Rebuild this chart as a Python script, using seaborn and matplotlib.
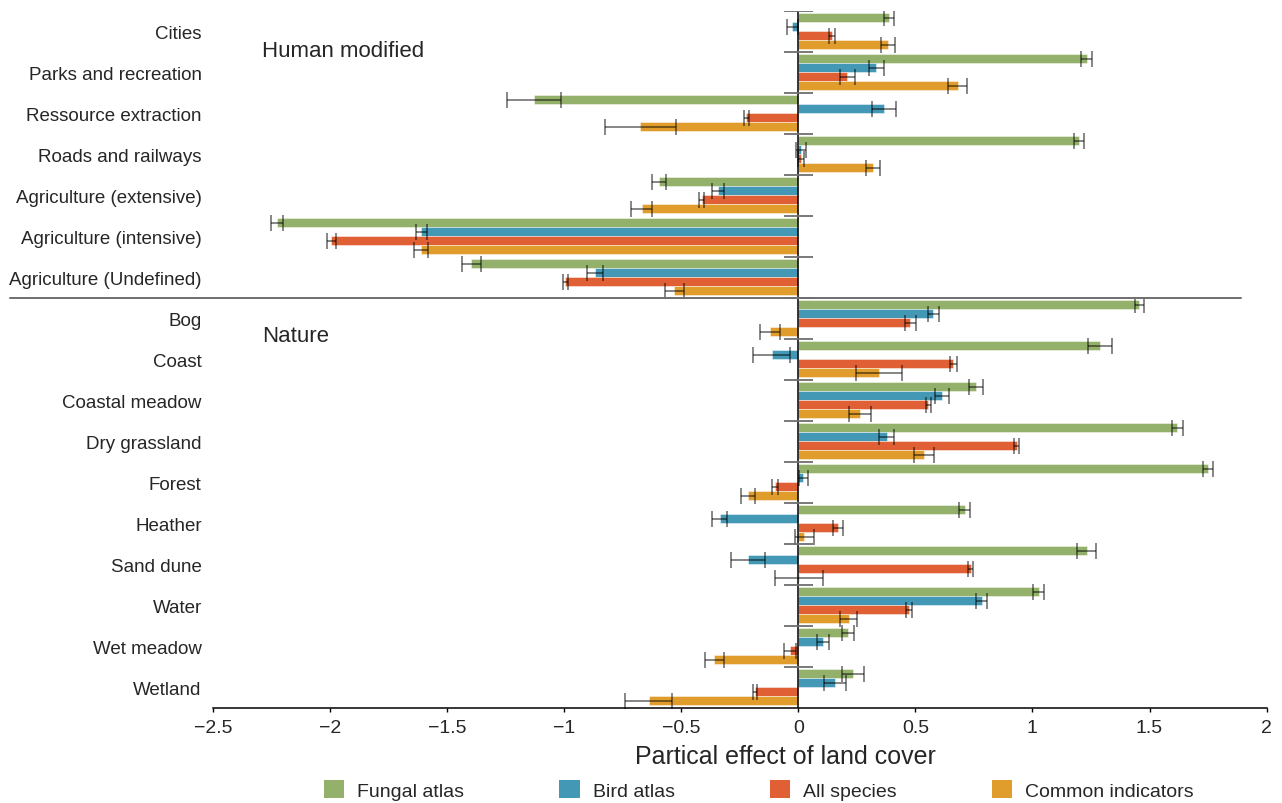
"""
Partial effect of land cover on species richness, by data source.
"""
import matplotlib
matplotlib.use("Agg")
import matplotlib.pyplot as plt
import matplotlib.patches as mpatches
import seaborn as sns
import pandas as pd
import numpy as np

categories = [
    "Cities", "Parks and recreation", "Ressource extraction", "Roads and railways",
    "Agriculture (extensive)", "Agriculture (intensive)", "Agriculture (Undefined)",
    "Bog", "Coast", "Coastal meadow", "Dry grassland", "Forest", "Heather",
    "Sand dune", "Water", "Wet meadow", "Wetland",
]
sources = ["Fungal atlas", "Bird atlas", "All species", "Common indicators"]

fungal = [0.387, 1.231, -1.128, 1.199, -0.595, -2.226, -1.396, 1.457, 1.289,
          0.759, 1.618, 1.748, 0.711, 1.231, 1.027, 0.211, 0.233]
fungal_err = [0.021, 0.024, 0.115, 0.021, 0.030, 0.024, 0.042, 0.021, 0.050,
              0.030, 0.024, 0.021, 0.024, 0.040, 0.023, 0.026, 0.046]

bird = [-0.025, 0.334, 0.367, 0.010, -0.342, -1.610, -0.866, 0.576, -0.114,
        0.615, 0.377, 0.022, -0.336, -0.215, 0.783, 0.107, 0.158]
bird_err = [0.025, 0.031, 0.052, 0.021, 0.027, 0.023, 0.034, 0.024, 0.079,
            0.029, 0.031, 0.019, 0.031, 0.073, 0.024, 0.026, 0.047]

all_species = [0.144, 0.210, -0.222, 0.012, -0.412, -1.995, -0.995, 0.479, 0.662,
               0.555, 0.933, -0.098, 0.171, 0.736, 0.474, -0.035, -0.184]
all_err = [0.014, 0.033, 0.011, 0.012, 0.010, 0.019, 0.011, 0.025, 0.014,
           0.011, 0.010, 0.013, 0.021, 0.010, 0.012, 0.025, 0.009]

common = [0.385, 0.681, -0.675, 0.318, -0.669, -1.611, -0.529, -0.121, 0.345,
          0.263, 0.537, -0.215, 0.026, 0.002, 0.215, -0.359, -0.638]
common_err = [0.030, 0.041, 0.152, 0.030, 0.045, 0.030, 0.042, 0.041, 0.100,
              0.047, 0.041, 0.031, 0.040, 0.103, 0.037, 0.041, 0.100]

colors = ["#93b16b", "#4398b6", "#e05f34", "#e19d2b"]
xticks = [-2.5, -2, -1.5, -1, -0.5, 0, 0.5, 1, 1.5, 2]

# long format for seaborn
values = [fungal, bird, all_species, common]
errors = [fungal_err, bird_err, all_err, common_err]
df = pd.DataFrame({
    "land": np.tile(categories, len(sources)),
    "source": np.repeat(sources, len(categories)),
    "effect": np.concatenate(values),
    "err": np.concatenate(errors),
})

sns.set_style("white")
plt.rcParams["font.family"] = ["Liberation Sans", "DejaVu Sans"]

fig = plt.figure(figsize=(12.82, 8.04), dpi=100)
ax = fig.add_axes([0.166, 0.1185, 0.822, 0.8669])

sns.barplot(data=df, y="land", x="effect", hue="source", order=categories,
            hue_order=sources, palette=colors, orient="h", errorbar=None,
            width=0.88, saturation=1, edgecolor=(1, 1, 1, 0.45), linewidth=0.7,
            legend=False, ax=ax)

# error bars centred on bar ends
for container, errs in zip(ax.containers, errors):
    for bar, e in zip(container, errs):
        x_end = bar.get_x() + bar.get_width()
        y_mid = bar.get_y() + bar.get_height() / 2
        ax.errorbar(x_end, y_mid, xerr=e, fmt="none", ecolor="black", alpha=0.6,
                    elinewidth=1.1, capsize=5.8, capthick=1.1, zorder=4)

ax.set_xlim(-2.5, 2)
ax.set_ylim(len(categories) - 0.5, -0.5)
ax.axvline(0, color="black", lw=1.1, zorder=5)

# short group separators on the zero line
bounds = np.arange(len(categories)) - 0.5
ax.hlines(bounds, -0.063, 0.061, color="#6e6e6e", lw=1.3, zorder=5)

# split between human modified and nature
ax.plot([-0.1926, 0.9753], [6.5, 6.5], transform=ax.get_yaxis_transform(),
        color="#6e6e6e", lw=1.4, clip_on=False, zorder=6)

ax.text(-2.29, 0.6, "Human modified", fontsize=16, va="baseline", ha="left")
ax.text(-2.29, 7.55, "Nature", fontsize=16, va="baseline", ha="left")

for side in ["left", "top", "right"]:
    ax.spines[side].set_visible(False)
ax.spines["bottom"].set_color("black")
ax.spines["bottom"].set_linewidth(1.1)

ax.set_xticks(xticks)
ax.set_xticklabels([f"{t:g}".replace("-", "\u2212") for t in xticks])
ax.tick_params(axis="x", direction="out", length=3, width=1, color="black",
               labelsize=14, pad=5, bottom=True)
ax.tick_params(axis="y", length=0, labelsize=13.5, pad=8)
ax.set_ylabel("")
ax.set_xlabel("Partical effect of land cover", fontsize=18)
ax.xaxis.label.set_va("center")
ax.xaxis.set_label_coords(0.543, -0.069)

handles = [mpatches.Patch(facecolor=c, edgecolor="none") for c in colors]
fig.legend(handles, sources, loc="center", bbox_to_anchor=(759 / 1282, 1 - 791 / 804),
           ncol=4, frameon=False, fontsize=14, handlelength=1.03, handleheight=1.03,
           handletextpad=0.68, columnspacing=4.9, borderpad=0)

fig.savefig("out.png", dpi=100)
